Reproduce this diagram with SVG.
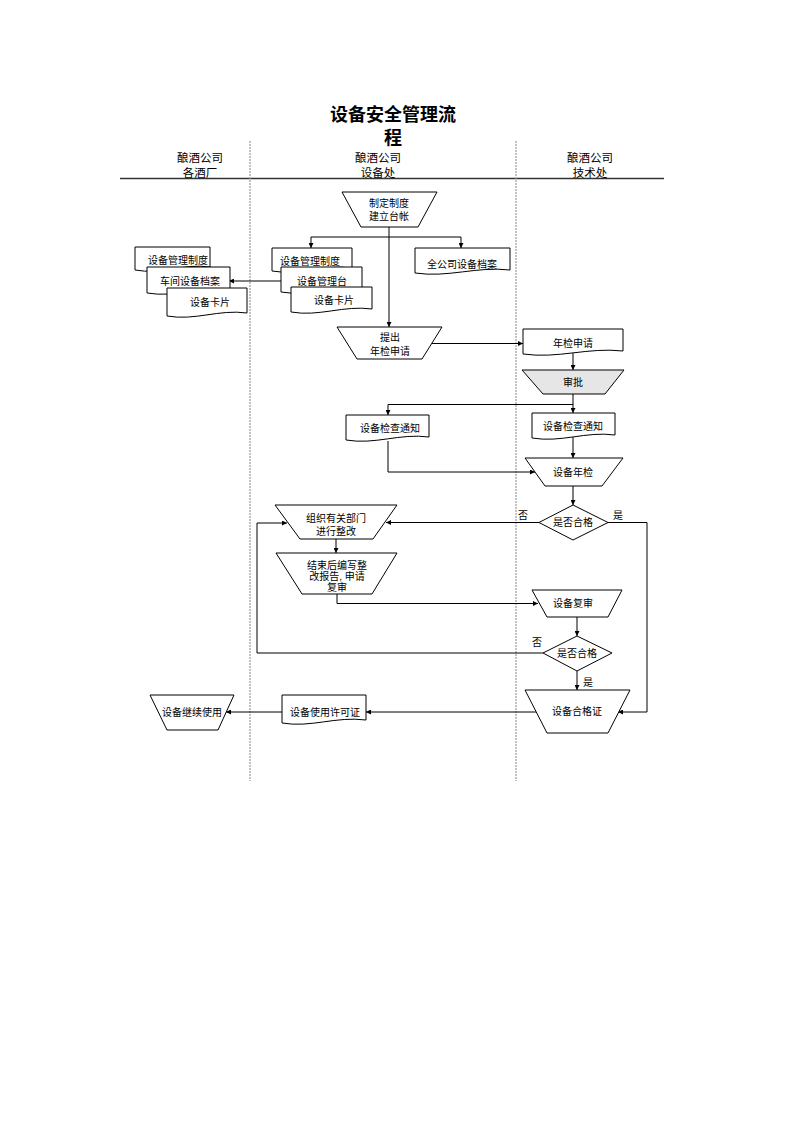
<svg xmlns="http://www.w3.org/2000/svg" width="793" height="1122" viewBox="0 0 793 1122">
<style>
.n{fill:#fff;stroke:#000;stroke-width:1}
.g{fill:#e6e6e6;stroke:#000;stroke-width:1}
.t{font-family:"Liberation Sans","Noto Sans CJK SC",sans-serif;font-size:10px;text-anchor:middle;fill:#000}
.h{font-family:"Liberation Sans","Noto Sans CJK SC",sans-serif;font-size:11.5px;text-anchor:middle;fill:#000}
.ttl{font-family:"Liberation Sans","Noto Sans CJK SC",sans-serif;font-size:18px;font-weight:bold;text-anchor:middle;fill:#000}
.c{fill:none;stroke:#000;stroke-width:1;marker-end:url(#a)}
.l{fill:none;stroke:#000;stroke-width:1}
.lane{stroke:#9a9a9a;stroke-width:1.2;stroke-dasharray:2 1}
</style>
<defs>
<marker id="a" markerWidth="5" markerHeight="5" refX="5" refY="2.5" orient="auto" markerUnits="userSpaceOnUse">
<path d="M0,0 L5,2.5 L0,5 z" fill="#000"/>
</marker>
</defs>
<rect width="793" height="1122" fill="#fff"/>
<g id="header">
<text class="ttl" x="393" y="121">设备安全管理流</text>
<text class="ttl" x="393" y="144">程</text>
<text class="h" x="200" y="162">酿酒公司</text>
<text class="h" x="200" y="177">各酒厂</text>
<text class="h" x="378" y="162">酿酒公司</text>
<text class="h" x="378" y="177">设备处</text>
<text class="h" x="590" y="162">酿酒公司</text>
<text class="h" x="590" y="177">技术处</text>
<line x1="120" y1="178.5" x2="664" y2="178.5" stroke="#333" stroke-width="1.3"/>
<line class="lane" x1="250" y1="141" x2="250" y2="781"/>
<line class="lane" x1="516" y1="141" x2="516" y2="781"/>
</g>
<g id="connectors">
<path class="c" d="M389,227 V327"/>
<path class="l" d="M311,237 H461"/>
<path class="c" d="M311,237 V248"/>
<path class="c" d="M461,237 V248"/>
<path class="c" d="M281,281 H229"/>
<path class="c" d="M432,343.5 H523"/>
<path class="c" d="M573,353 V370"/>
<path class="c" d="M573,394 V413"/>
<path class="c" d="M573,404.5 H388 V415"/>
<path class="c" d="M573,437 V458"/>
<path class="c" d="M388,441 V472 H535"/>
<path class="c" d="M573,486 V505"/>
<path class="c" d="M539,522.5 H386"/>
<path class="c" d="M608,522.5 H647 V712 H618"/>
<path class="c" d="M336,539 V553"/>
<path class="c" d="M543,653 H257 V523 H287"/>
<path class="c" d="M337,594 V603.5 H538"/>
<path class="c" d="M577,617 V636"/>
<path class="c" d="M577,671 V690"/>
<path class="c" d="M536,712 H366"/>
<path class="c" d="M282,712 H226"/>
</g>
<g id="doc-l1"><path class="n" d="M135,247 H210 V267 C184,263 161,275 135,270 Z"/><text class="t" x="178" y="264">设备管理制度</text></g>
<g id="doc-l2"><path class="n" d="M147,267 H230 V290 C201,286 176,298 147,293 Z"/><text class="t" x="190" y="285">车间设备档案</text></g>
<g id="doc-l3"><path class="n" d="M167,288 H247 V313 C219,309 195,321 167,316 Z"/><text class="t" x="210" y="306">设备卡片</text></g>
<g id="doc-m1"><path class="n" d="M272,248 H352 V268 C324,264 300,276 272,271 Z"/><text class="t" x="310" y="265">设备管理制度</text></g>
<g id="doc-m2"><path class="n" d="M281,267 H362 V289 C334,285 309,297 281,292 Z"/><text class="t" x="322" y="285">设备管理台</text></g>
<g id="doc-m3"><path class="n" d="M291,287 H372 V309 C344,305 319,317 291,312 Z"/><text class="t" x="334" y="304">设备卡片</text></g>
<g id="doc-all"><path class="n" d="M415,248 H510 V270 C477,266 448,278 415,273 Z"/><text class="t" x="462" y="268">全公司设备档案</text></g>
<g id="n-zhiding"><path class="n" d="M342,192 H437 L418,227 H361 Z"/><text class="t" x="389" y="207">制定制度</text><text class="t" x="389" y="220">建立台帐</text></g>
<g id="n-tichu"><path class="n" d="M337,327 H442 L422,359 H357 Z"/><text class="t" x="390" y="341">提出</text><text class="t" x="390" y="355">年检申请</text></g>
<g id="doc-njsq"><path class="n" d="M523,329 H623 V351 C588,347 558,359 523,354 Z"/><text class="t" x="573" y="347">年检申请</text></g>
<g id="n-shenpi"><path class="g" d="M522,370 H624 L605,394 H543 Z"/><text class="t" x="573" y="386">审批</text></g>
<g id="doc-tz-r"><path class="n" d="M532,413 H615 V435 C586,431 561,443 532,438 Z"/><text class="t" x="573" y="430">设备检查通知</text></g>
<g id="doc-tz-m"><path class="n" d="M346,415 H429 V437 C400,433 375,445 346,440 Z"/><text class="t" x="390" y="432">设备检查通知</text></g>
<g id="n-nianjian"><path class="n" d="M525,458 H623 L602,486 H545 Z"/><text class="t" x="573" y="476">设备年检</text></g>
<g id="d1"><path class="n" d="M573,505 L608,522.5 L573,540 L539,522.5 Z"/><text class="t" x="573" y="526">是否合格</text></g>
<text class="t" x="523" y="519">否</text>
<text class="t" x="618" y="519">是</text>
<g id="n-zuzhi"><path class="n" d="M275,505 H397 L373,539 H300 Z"/><text class="t" x="336" y="522">组织有关部门</text><text class="t" x="336" y="535">进行整改</text></g>
<g id="n-jieshu"><path class="n" d="M276,553 H397 L372,594 H302 Z"/><text class="t" x="337" y="569">结束后编写整</text><text class="t" x="337" y="580">改报告, 申请</text><text class="t" x="337" y="591">复审</text></g>
<g id="n-fushen"><path class="n" d="M532,590 H622 L608,617 H547 Z"/><text class="t" x="573" y="607">设备复审</text></g>
<g id="d2"><path class="n" d="M577,636 L612,653 L577,671 L543,653 Z"/><text class="t" x="577" y="657">是否合格</text></g>
<text class="t" x="537" y="646">否</text>
<text class="t" x="588" y="686">是</text>
<g id="n-hege"><path class="n" d="M525,690 H630 L608,733 H547 Z"/><text class="t" x="577" y="715">设备合格证</text></g>
<g id="doc-xuke"><path class="n" d="M282,695 H366 V720 C336,716 311,728 282,723 Z"/><text class="t" x="325" y="716">设备使用许可证</text></g>
<g id="n-jixu"><path class="n" d="M150,695 H234 L218,730 H167 Z"/><text class="t" x="192" y="716">设备继续使用</text></g>
</svg>
